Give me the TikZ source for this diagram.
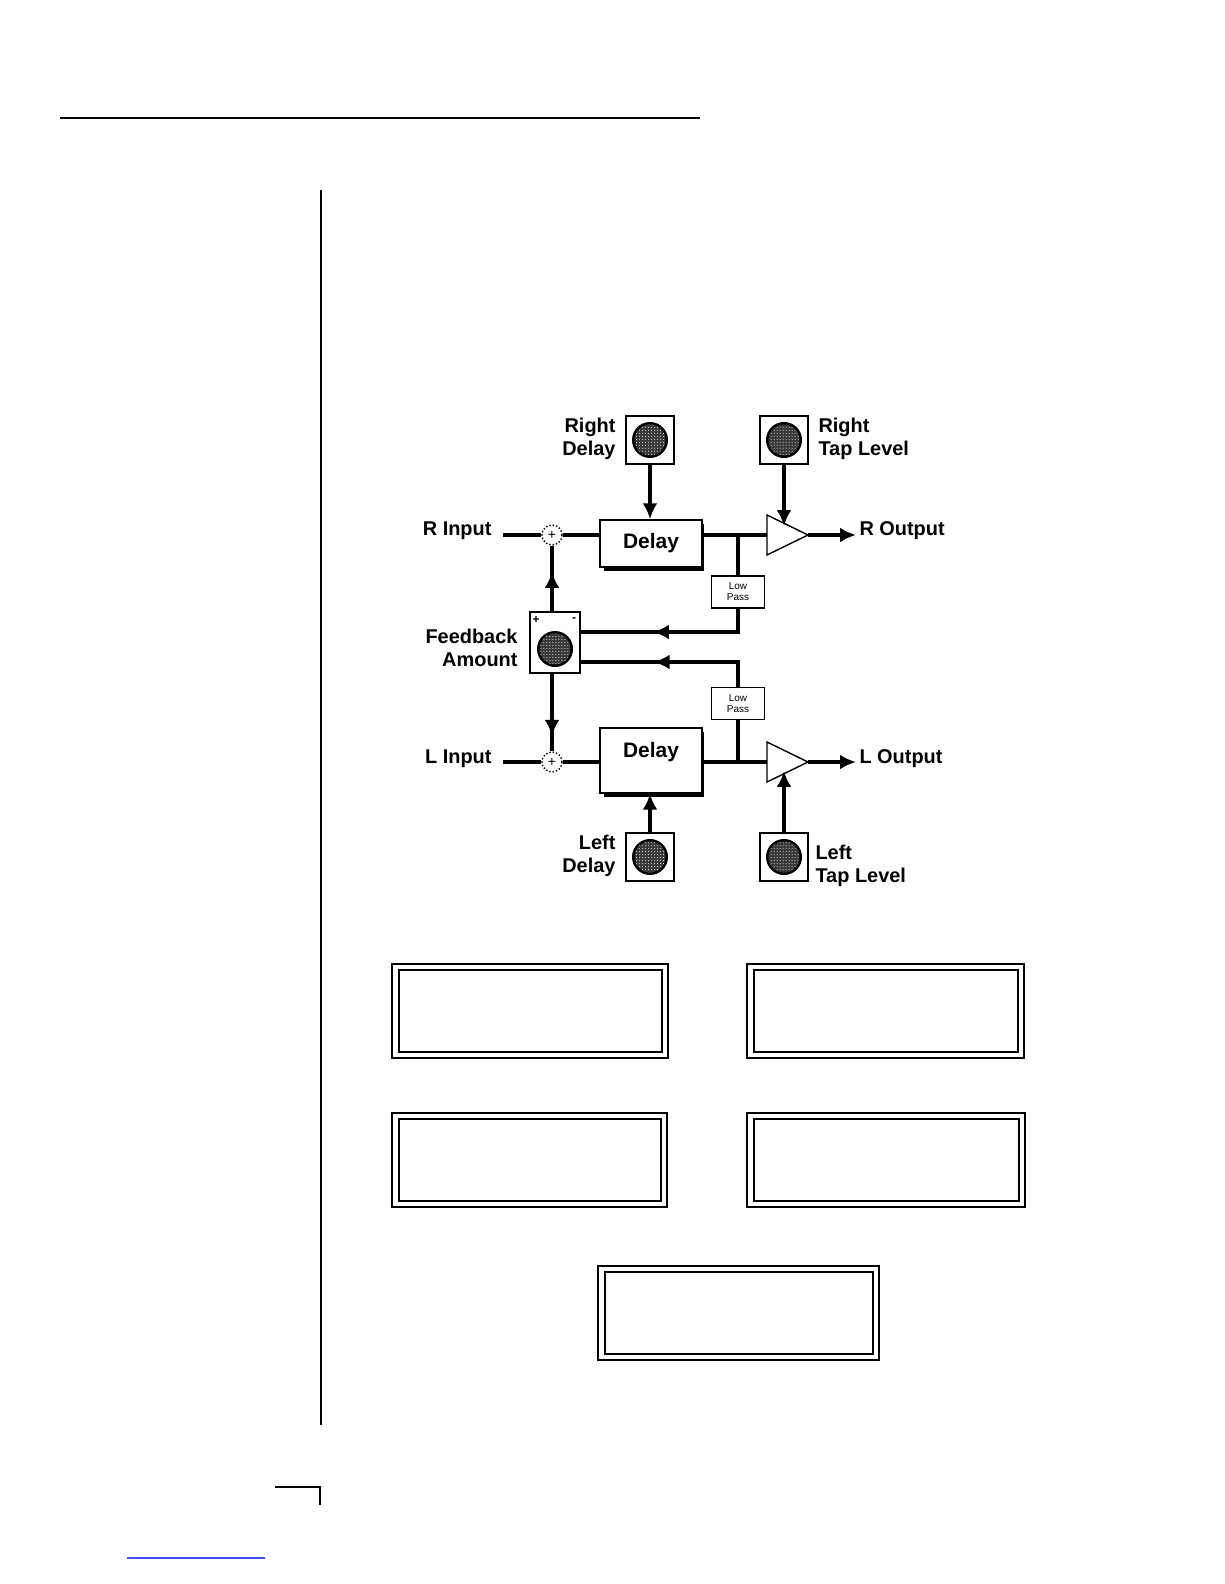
\documentclass[tikz,border=0pt]{standalone}
\usepackage{fontspec}
\setmainfont{Liberation Sans}
\usetikzlibrary{arrows.meta,patterns,decorations.markings}
\begin{document}
\begin{tikzpicture}[x=1bp,y=-1bp,
  lbl/.style={font=\fontsize{20}{23}\selectfont\bfseries, align=right},
  lblL/.style={font=\fontsize{20}{23}\selectfont\bfseries, align=left},
  sig/.style={line width=3.2pt},
  arr/.style={sig,-{Latex[length=16pt,width=15pt]}},
  midarr/.style={sig,postaction={decorate},decoration={markings,mark=at position #1 with {\arrow{Latex[length=16pt,width=15pt]}}}},
  blk/.style={draw,line width=1.6pt,fill=white},
  kbox/.style={draw,line width=1.6pt,minimum width=48bp,minimum height=48bp,inner sep=0pt},
  frame/.style={draw,line width=1.2pt}]
\useasboundingbox (0,0) rectangle (1224,1584);
% page furniture
\draw[line width=1.4pt] (60,118) -- (700,118);
\draw[line width=1.2pt] (321,190) -- (321,1425);
\draw[line width=1.2pt] (275,1487) -- (320,1487) -- (320,1505);
\draw[line width=1.2pt,blue!70] (127,1558) -- (265,1558);
% knobs
\newcommand{\knob}[3]{\node[kbox] (#1) at (#2,#3) {};
  \fill[black] (#2,#3) circle (18bp);
  \fill[gray!45!black] (#2,#3) circle (15.5bp);
  \fill[pattern=dots,pattern color=white] (#2,#3) circle (15.5bp);}
\knob{kRD}{650}{440}
\knob{kRT}{784}{440}
\knob{kLD}{650}{857}
\knob{kLT}{784}{857}
\node[kbox,minimum width=50bp,minimum height=61bp] (kFB) at (555,642.5) {};
\fill[black] (555,649) circle (18bp);
\fill[gray!45!black] (555,649) circle (15.5bp);
\fill[pattern=dots,pattern color=white] (555,649) circle (15.5bp);
\node[font=\fontsize{12}{12}\selectfont\bfseries] at (536,620) {+};
\node[font=\fontsize{12}{12}\selectfont\bfseries] at (574,620) {-};
% delays
\fill (604,524) rectangle (704,571);
\node[blk,minimum width=102bp,minimum height=47bp,font=\fontsize{21}{24}\selectfont\bfseries] (dR) at (651,543.5) {Delay};
\fill (604,732) rectangle (704,797);
\node[blk,minimum width=102bp,minimum height=65bp,font=\fontsize{21}{24}\selectfont\bfseries,text depth=22pt] (dL) at (651,760.5) {Delay};
% sums
\node[circle,draw,dotted,line width=1.4pt,minimum size=20bp,inner sep=0pt,font=\fontsize{14}{14}\selectfont] (sR) at (552,535) {+};
\node[circle,draw,dotted,line width=1.4pt,minimum size=20bp,inner sep=0pt,font=\fontsize{14}{14}\selectfont] (sL) at (552,762) {+};
% low pass
\node[blk,line width=1.2pt,minimum width=53bp,minimum height=32bp,align=center,font=\fontsize{10}{11}\selectfont] (lpR) at (738,592) {Low\\Pass};
\node[blk,line width=1.2pt,minimum width=53bp,minimum height=32bp,align=center,font=\fontsize{10}{11}\selectfont] (lpL) at (738,703.5) {Low\\Pass};
% triangles
\draw[line width=1.4pt,fill=white] (767,515) -- (808,535) -- (767,555) -- cycle;
\coordinate (tR) at (767,535); \coordinate (tRo) at (808,535); \coordinate (tRt) at (784,526);
\draw[line width=1.4pt,fill=white] (767,742) -- (808,762) -- (767,782) -- cycle;
\coordinate (tL) at (767,762); \coordinate (tLo) at (808,762); \coordinate (tLb) at (784,771);
% labels
\node[lbl,anchor=east] (rin) at (495,531) {R Input};
\node[lbl,anchor=east] (lin) at (495,759) {L Input};
\node[lblL,anchor=west] (rout) at (856,531) {R Output};
\node[lblL,anchor=west] (lout) at (856,759) {L Output};
\coordinate (routp) at (856,535); \coordinate (loutp) at (856,762);
\node[lbl,anchor=east] at (619,439) {Right\\Delay};
\node[lblL,anchor=west] at (815,439) {Right\\Tap Level};
\node[lbl,anchor=east] at (619,856) {Left\\Delay};
\node[lblL,anchor=west] at (812,866) {Left\\Tap Level};
\node[lbl,anchor=east] at (521,648) {Feedback\\Amount};
% signal lines
\coordinate (jR) at (738,535); \coordinate (jL) at (738,762);
\coordinate (inR) at (503,535); \coordinate (inL) at (503,762);
\draw[sig] (inR) -- (sR.west);
\draw[sig] (sR.east) -- (sR.east -| dR.west);
\draw[sig] (tR -| dR.east) -- (tR);
\draw[arr] (tRo) -- (routp);
\draw[sig] (inL) -- (sL.west);
\draw[sig] (sL.east) -- (sL.east -| dL.west);
\draw[sig] (tL -| dL.east) -- (tL);
\draw[arr] (tLo) -- (loutp);
\draw[sig] (jR) -- (lpR.north);
\draw[sig] (jL) -- (lpL.south);
\draw[midarr=0.6] (lpR.south) |- (kFB.east |- 0,632);
\draw[midarr=0.6] (lpL.north) |- (kFB.east |- 0,662);
\draw[arr] (kRD.south) -- (kRD.south |- dR.north);
\draw[arr] (kRT.south) -- (tRt);
\draw[arr] (kLD.north) -- (kLD.north |- dL.south);
\draw[arr] (kLT.north) -- (tLb);
\draw[midarr=0.6] (kFB.north -| sR) -- (sR.south);
\draw[midarr=0.8] (kFB.south -| sL) -- (sL.north);
% display frames
\foreach \a/\b/\c/\d in {392/964/668/1058, 747/964/1024/1058, 392/1113/667/1207, 747/1113/1025/1207, 598/1266/879/1360}{
  \draw[frame] (\a,\b) rectangle (\c,\d);
  \draw[frame] (\a+7,\b+6) rectangle (\c-6,\d-6);}
\end{tikzpicture}
\end{document}
